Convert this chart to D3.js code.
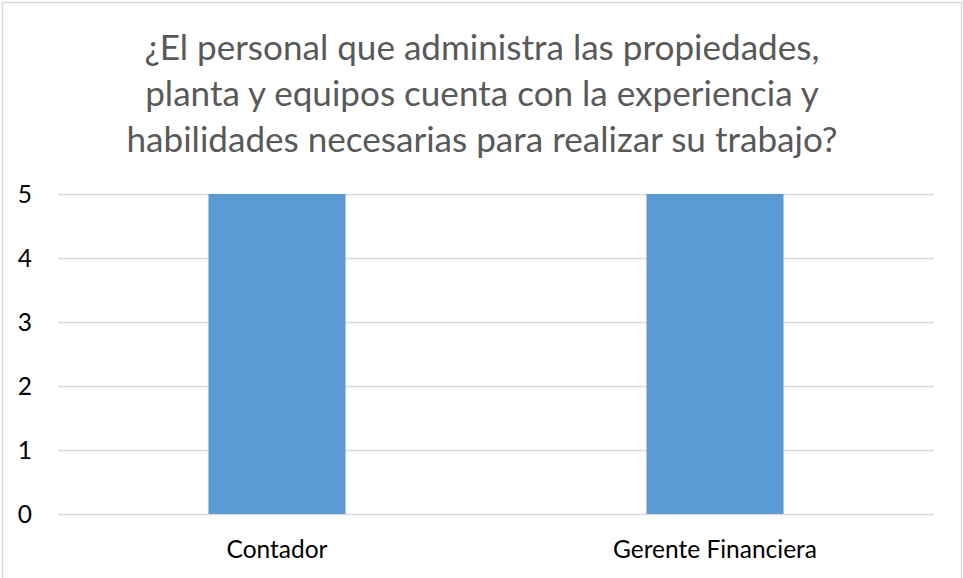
<!DOCTYPE html>
<html>
<head>
<meta charset="utf-8">
<script src="https://cdn.jsdelivr.net/npm/d3@7"></script>
<style>
  body { margin: 0; background: #fff; }
  text { font-family: Lato, "Open Sans", sans-serif; }
</style>
</head>
<body>
<div id="chart"></div>
<script>
// chart data
const categories = ["Contador", "Gerente Financiera"];
const values = [5, 5];
const yTicks = [0, 1, 2, 3, 4, 5];
const titleLines = [
    "¿El personal que administra las propiedades,",
    "planta y equipos cuenta con la experiencia y",
    "habilidades necesarias para realizar su trabajo?"
];

let width = 963, height = 578;
let margin = { top: 194, right: 29, bottom: 64, left: 58 };
let innerW = width - margin.left - margin.right;
let innerH = height - margin.top - margin.bottom;

let svg = d3.select("#chart").append("svg")
    .attr("width", width)
    .attr("height", height);

// chart border
svg.append("rect")
    .attr("x", 2.5).attr("y", 2.5)
    .attr("width", 959).attr("height", 585)
    .attr("fill", "none")
    .attr("stroke", "#d9d9d9")
    .attr("stroke-width", 1.5);

// fit a font size so that the given text is about `target` px wide
function fitSize(sel, target, base) {
    let w = d3.max(sel.nodes(), n => n.getComputedTextLength());
    return base * target / w;
}

// title
let title = svg.append("g");
title.selectAll("text")
    .data(titleLines)
    .enter()
    .append("text")
        .attr("x", 482)
        .attr("y", (d, i) => 60 + i * 46)
        .attr("text-anchor", "middle")
        .attr("fill", "#595959")
        .style("font-size", "30px")
        .text(d => d);
title.selectAll("text").style("font-size", fitSize(title.selectAll("text"), 711, 30) + "px");

let g = svg.append("g")
    .attr("transform", `translate(${margin.left},${margin.top})`);

let x = d3.scaleBand()
    .domain(categories)
    .range([0, innerW])
    .paddingInner(0.687)
    .paddingOuter(0.3435);

let y = d3.scaleLinear()
    .domain([0, 5])
    .range([innerH, 0]);

// gridlines
g.append("g")
    .selectAll("line")
    .data(yTicks)
    .enter()
    .append("line")
        .attr("x1", 0)
        .attr("x2", innerW)
        .attr("y1", d => Math.round(y(d)) + 0.5)
        .attr("y2", d => Math.round(y(d)) + 0.5)
        .attr("stroke", "#d9d9d9")
        .attr("stroke-width", 1.5);

// bars
g.append("g")
    .selectAll("rect")
    .data(values)
    .enter()
    .append("rect")
        .attr("x", (d, i) => x(categories[i]))
        .attr("y", d => y(d))
        .attr("width", x.bandwidth())
        .attr("height", d => innerH - y(d))
        .attr("fill", "#5b9bd5");

// x labels (size fitted on "Contador", ~101px wide)
let xAxis = d3.axisBottom(x).tickSize(0);
let xText = g.append("g")
    .attr("transform", `translate(0,${innerH})`)
    .call(xAxis)
    .call(s => s.select(".domain").remove())
    .selectAll("text")
        .attr("y", 44)
        .attr("dy", 0)
        .attr("fill", "#000")
        .style("font-size", "20px")
        .style("font-family", "Lato, sans-serif");
let labelSize = fitSize(xText.filter(d => d === "Contador"), 101, 20);
xText.style("font-size", labelSize + "px");

// y tick labels
let yAxis = d3.axisLeft(y).tickValues(yTicks).tickFormat(d3.format("d")).tickSize(0).tickPadding(26);
g.append("g")
    .call(yAxis)
    .call(s => s.select(".domain").remove())
    .selectAll("text")
        .attr("dy", "0.36em")
        .attr("fill", "#000")
        .style("font-size", labelSize + "px")
        .style("font-family", "Lato, sans-serif");
</script>
</body>
</html>
